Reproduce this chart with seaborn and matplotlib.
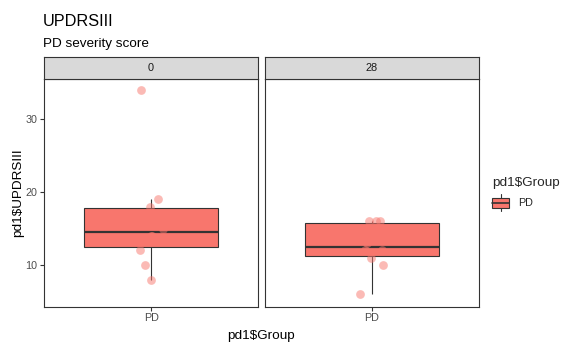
import numpy as np
import pandas as pd
import seaborn as sns
import matplotlib
matplotlib.use("Agg")
import matplotlib.pyplot as plt
from matplotlib.patches import Rectangle
from matplotlib.lines import Line2D
from matplotlib.legend_handler import HandlerBase

# UPDRS-III scores of the PD group at day 0 and day 28
days = ["0", "28"]
updrs_day0 = [34, 19, 18, 17, 15, 14, 14, 12, 10, 8]
updrs_day28 = [16, 16, 16, 15, 13, 12, 12, 11, 10, 6]
group_label = "PD"
y_ticks = [10, 20, 30]

df = pd.concat([
    pd.DataFrame({"Day": d, "Group": group_label, "UPDRSIII": vals})
    for d, vals in zip(days, [updrs_day0, updrs_day28])
], ignore_index=True)

FILL = "#F8766D"
DARK = "#333333"
TICKTXT = "#4D4D4D"

sns.set_theme(style="white")
plt.rcParams["font.family"] = ["Liberation Sans", "DejaVu Sans"]

W, H = 563, 343
fig = plt.figure(figsize=(W / 100, H / 100), dpi=100)


def px_rect(x0, y0, x1, y1):
    return [x0 / W, 1 - y1 / H, (x1 - x0) / W, (y1 - y0) / H]


panels = [(44, 258.3), (265, 479)]
strip_top, panel_top, panel_bottom = 56.7, 79.3, 306.7
np.random.seed(7)

for i, (day, (x0, x1)) in enumerate(zip(days, panels)):
    ax = fig.add_axes(px_rect(x0, panel_top, x1, panel_bottom))
    sub = df[df["Day"] == day]
    sns.boxplot(data=sub, x="Group", y="UPDRSIII", ax=ax, color=FILL,
                saturation=1, width=0.75, showfliers=False, whis=1.5,
                linecolor=DARK, linewidth=0.8, showcaps=False,
                medianprops=dict(linewidth=1.6, color=DARK))
    sns.stripplot(data=sub, x="Group", y="UPDRSIII", ax=ax, color=FILL,
                  alpha=0.5, size=6.3, jitter=0.07, linewidth=0, zorder=4)
    ax.set_xlim(-0.6, 0.6)
    ax.set_ylim(4.29, 35.44)
    ax.set_yticks(y_ticks)
    ax.set_xlabel("")
    ax.set_ylabel("")
    for sp in ax.spines.values():
        sp.set_visible(True)
        sp.set_color(DARK)
        sp.set_linewidth(0.8)
    ax.tick_params(axis="both", which="both", length=2.6, width=0.8,
                   color=DARK, labelcolor=TICKTXT, labelsize=7.75, pad=2.2,
                   bottom=True, left=(i == 0))
    if i > 0:
        ax.set_yticklabels([])

    # facet strip
    sax = fig.add_axes(px_rect(x0, strip_top, x1, panel_top))
    sax.set_facecolor("#D9D9D9")
    sax.set_xticks([])
    sax.set_yticks([])
    for sp in sax.spines.values():
        sp.set_color(DARK)
        sp.set_linewidth(0.8)
    sax.text(0.5, 0.5, day, ha="center", va="center", fontsize=7.9,
             color="#1A1A1A", transform=sax.transAxes)

# titles
fig.text(43 / W, 1 - 26 / H, "UPDRSIII", fontsize=11.7, color="black",
         ha="left", va="baseline")
fig.text(43 / W, 1 - 46.5 / H, "PD severity score", fontsize=9.7,
         color="black", ha="left", va="baseline")
fig.text(261.5 / W, 1 - 338.5 / H, "pd1$Group", fontsize=9.7,
         color="black", ha="center", va="baseline")
fig.text(18 / W, 1 - 193 / H, "pd1$UPDRSIII", fontsize=9.7, color="black",
         ha="center", va="center", rotation=90)


class BoxKeyHandler(HandlerBase):
    def create_artists(self, legend, orig_handle, xdescent, ydescent,
                       width, height, fontsize, trans):
        x0, y0 = -xdescent, -ydescent
        cx, cy = x0 + width / 2, y0 + height / 2
        whisker = Line2D([cx, cx], [y0, y0 + height], color=DARK, lw=0.8,
                         transform=trans)
        box = Rectangle((x0, y0 + 0.19 * height), width, 0.62 * height,
                        facecolor=FILL, edgecolor=DARK, lw=0.8,
                        transform=trans)
        med = Line2D([x0, x0 + width], [cy, cy], color=DARK, lw=1.2,
                     transform=trans)
        return [whisker, box, med]


handle = Rectangle((0, 0), 1, 1, facecolor=FILL, edgecolor=DARK)
leg = fig.legend(handles=[handle], labels=[group_label], title="pd1$Group",
                 loc="upper left", bbox_to_anchor=(492.5 / W, 1 - 177 / H),
                 frameon=False, handler_map={Rectangle: BoxKeyHandler()},
                 fontsize=7.75, title_fontsize=9.7, handlelength=1.55,
                 handleheight=2.0, handletextpad=0.85, borderpad=0,
                 borderaxespad=0, alignment="left")

fig.savefig("out.png", dpi=100)
